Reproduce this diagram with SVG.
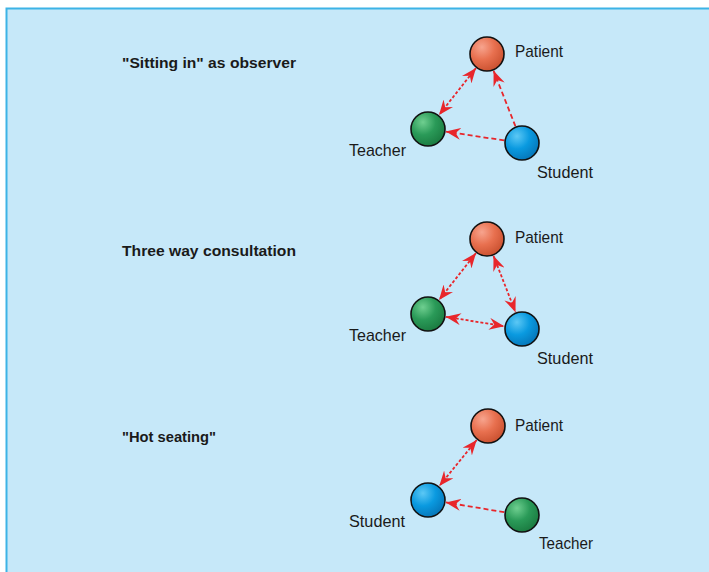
<svg xmlns="http://www.w3.org/2000/svg" width="709" height="572" viewBox="0 0 709 572">
<style>
.t{font-family:"Liberation Sans Narrow","Liberation Sans",Arial,sans-serif;font-weight:bold;fill:#1a1a1a;}
.title{font-size:15px;}
.lbl{font-size:17px;font-weight:normal;}
.n{stroke:#111;stroke-width:1.6;}
.c{fill:none;stroke:#e8262b;stroke-width:1.8;}
.dot{stroke-dasharray:3 2;}
.dash{stroke-dasharray:5 3;}
</style>
<defs>
<radialGradient id="gp" cx="35%" cy="30%" r="75%"><stop offset="0" stop-color="#f7a48e"/><stop offset="0.5" stop-color="#e8704f"/><stop offset="1" stop-color="#c9502f"/></radialGradient>
<radialGradient id="gt" cx="35%" cy="30%" r="75%"><stop offset="0" stop-color="#6fcf90"/><stop offset="0.5" stop-color="#2a9a58"/><stop offset="1" stop-color="#1a7a40"/></radialGradient>
<radialGradient id="gs" cx="35%" cy="30%" r="75%"><stop offset="0" stop-color="#5cc8f5"/><stop offset="0.5" stop-color="#0a9ae0"/><stop offset="1" stop-color="#0575b8"/></radialGradient>
<marker id="ah" viewBox="0 0 15 12" refX="15" refY="6" markerWidth="15" markerHeight="12" markerUnits="userSpaceOnUse" orient="auto-start-reverse"><path d="M0,0 L15,6 L0,12 L5,6 z" fill="#e8262b"/></marker>
</defs>
<rect x="6.5" y="8.5" width="710" height="570" fill="#c6e8f9" stroke="#3db3e6" stroke-width="2"/>

<g id="titles">
<text class="t title" x="122" y="68" textLength="174" lengthAdjust="spacingAndGlyphs">"Sitting in" as observer</text>
<text class="t title" x="122" y="256" textLength="174" lengthAdjust="spacingAndGlyphs">Three way consultation</text>
<text class="t title" x="122" y="442" textLength="94" lengthAdjust="spacingAndGlyphs">"Hot seating"</text>
</g>

<g id="connectors">
<!-- panel 1 -->
<line class="c dot" x1="476" y1="68" x2="439" y2="115" marker-start="url(#ah)" marker-end="url(#ah)"/>
<line class="c dash" x1="515.4" y1="126.2" x2="493.6" y2="70.8" marker-end="url(#ah)"/>
<line class="c dash" x1="504.2" y1="140.4" x2="445.8" y2="131.6" marker-end="url(#ah)"/>
<!-- panel 2 -->
<line class="c dot" x1="476" y1="253" x2="439" y2="300" marker-start="url(#ah)" marker-end="url(#ah)"/>
<line class="c dot" x1="493.5" y1="255.8" x2="515.5" y2="312.2" marker-start="url(#ah)" marker-end="url(#ah)"/>
<line class="c dot" x1="445.8" y1="316.8" x2="504.2" y2="326.2" marker-start="url(#ah)" marker-end="url(#ah)"/>
<!-- panel 3 -->
<line class="c dot" x1="476.7" y1="440" x2="439.3" y2="486" marker-start="url(#ah)" marker-end="url(#ah)"/>
<line class="c dash" x1="504.2" y1="512.2" x2="445.8" y2="502.4" marker-end="url(#ah)"/>
</g>

<g id="p1-patient"><circle class="n" cx="487" cy="54" r="17" fill="url(#gp)"/><text class="t lbl" x="515" y="57" textLength="48" lengthAdjust="spacingAndGlyphs">Patient</text></g>
<g id="p1-teacher"><circle class="n" cx="428" cy="129" r="17" fill="url(#gt)"/><text class="t lbl" x="349" y="156" textLength="57" lengthAdjust="spacingAndGlyphs">Teacher</text></g>
<g id="p1-student"><circle class="n" cx="522" cy="143" r="17" fill="url(#gs)"/><text class="t lbl" x="537" y="178" textLength="56" lengthAdjust="spacingAndGlyphs">Student</text></g>

<g id="p2-patient"><circle class="n" cx="487" cy="239" r="17" fill="url(#gp)"/><text class="t lbl" x="515" y="243" textLength="48" lengthAdjust="spacingAndGlyphs">Patient</text></g>
<g id="p2-teacher"><circle class="n" cx="428" cy="314" r="17" fill="url(#gt)"/><text class="t lbl" x="349" y="341" textLength="57" lengthAdjust="spacingAndGlyphs">Teacher</text></g>
<g id="p2-student"><circle class="n" cx="522" cy="329" r="17" fill="url(#gs)"/><text class="t lbl" x="537" y="364" textLength="56" lengthAdjust="spacingAndGlyphs">Student</text></g>

<g id="p3-patient"><circle class="n" cx="488" cy="426" r="17" fill="url(#gp)"/><text class="t lbl" x="515" y="431" textLength="48" lengthAdjust="spacingAndGlyphs">Patient</text></g>
<g id="p3-student"><circle class="n" cx="428" cy="500" r="17" fill="url(#gs)"/><text class="t lbl" x="349" y="527" textLength="56" lengthAdjust="spacingAndGlyphs">Student</text></g>
<g id="p3-teacher"><circle class="n" cx="522" cy="515" r="17" fill="url(#gt)"/><text class="t lbl" x="539" y="549" textLength="54" lengthAdjust="spacingAndGlyphs">Teacher</text></g>
</svg>
